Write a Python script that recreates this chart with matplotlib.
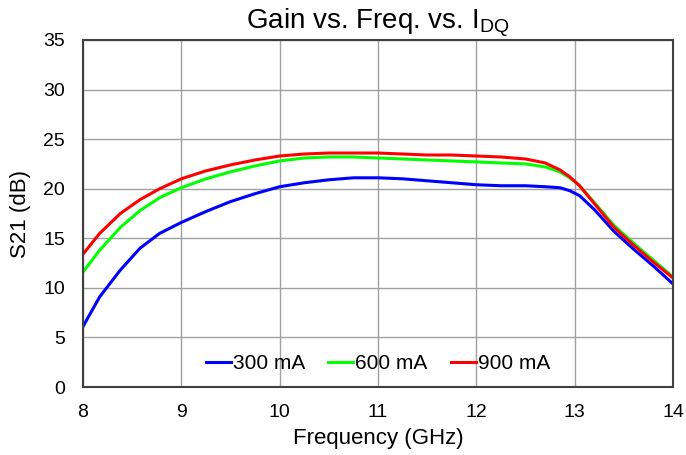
import matplotlib
matplotlib.use("Agg")
import matplotlib.pyplot as plt

plt.rcParams['font.family'] = ['Liberation Sans', 'DejaVu Sans']
plt.rcParams['mathtext.fontset'] = 'custom'
plt.rcParams['mathtext.rm'] = 'Liberation Sans'

freq = [8.0, 8.17, 8.38, 8.58, 8.78, 9.0, 9.25, 9.5, 9.75, 10.0, 10.25, 10.5, 10.75, 11.0,
        11.25, 11.5, 11.75, 12.0, 12.25, 12.5, 12.7, 12.85, 12.95, 13.05, 13.2, 13.4, 13.6, 13.8, 14.0]
s21_300 = [6.1, 9.1, 11.8, 14.0, 15.5, 16.6, 17.7, 18.7, 19.5, 20.2, 20.6, 20.9, 21.1, 21.1,
           21.0, 20.8, 20.6, 20.4, 20.3, 20.3, 20.2, 20.1, 19.8, 19.3, 17.9, 15.7, 13.9, 12.2, 10.4]
s21_600 = [11.6, 13.8, 16.1, 17.8, 19.1, 20.1, 21.0, 21.7, 22.3, 22.8, 23.1, 23.2, 23.2, 23.1,
           23.0, 22.9, 22.8, 22.7, 22.6, 22.5, 22.2, 21.7, 21.1, 20.3, 18.6, 16.3, 14.5, 12.8, 11.1]
s21_900 = [13.4, 15.5, 17.5, 18.9, 20.0, 21.0, 21.8, 22.4, 22.9, 23.3, 23.5, 23.6, 23.6, 23.6,
           23.5, 23.4, 23.4, 23.3, 23.2, 23.0, 22.6, 21.9, 21.2, 20.3, 18.5, 16.1, 14.3, 12.6, 11.0]
labels = ['300 mA', '600 mA', '900 mA']
colors = ['#0000FF', '#00FF00', '#FF0000']

fig = plt.figure(figsize=(6.86, 4.55), dpi=100)
ax = fig.add_axes([83/686, 1-387/455, 590/686, 347/455])

for y, lab, c in zip([s21_300, s21_600, s21_900], labels, colors):
    ax.plot(freq, y, color=c, lw=2.2, label=lab)

ax.set_xlim(8, 14)
ax.set_ylim(0, 35)
ax.set_xticks(range(8, 15))
ax.set_yticks(range(0, 36, 5))
ax.grid(True, color='#A0A0A0', lw=1)
ax.set_axisbelow(True)
for s in ax.spines.values():
    s.set_color('#404040')
    s.set_linewidth(1.5)
ax.tick_params(axis='y', labelsize=14, length=0, pad=13)
ax.tick_params(axis='x', labelsize=14, length=0, pad=12)
ax.set_xlabel('Frequency (GHz)', fontsize=16, labelpad=5)
ax.set_ylabel('S21 (dB)', fontsize=16, labelpad=9)
ax.set_title(r'Gain vs. Freq. vs. I$_{\mathregular{DQ}}$', fontsize=20, pad=6)
ax.legend(loc='lower center', ncol=3, frameon=False, fontsize=15, handlelength=1.2,
          handletextpad=0.1, columnspacing=1.1, bbox_to_anchor=(0.5, -0.015))

fig.savefig('out.png', dpi=100)
